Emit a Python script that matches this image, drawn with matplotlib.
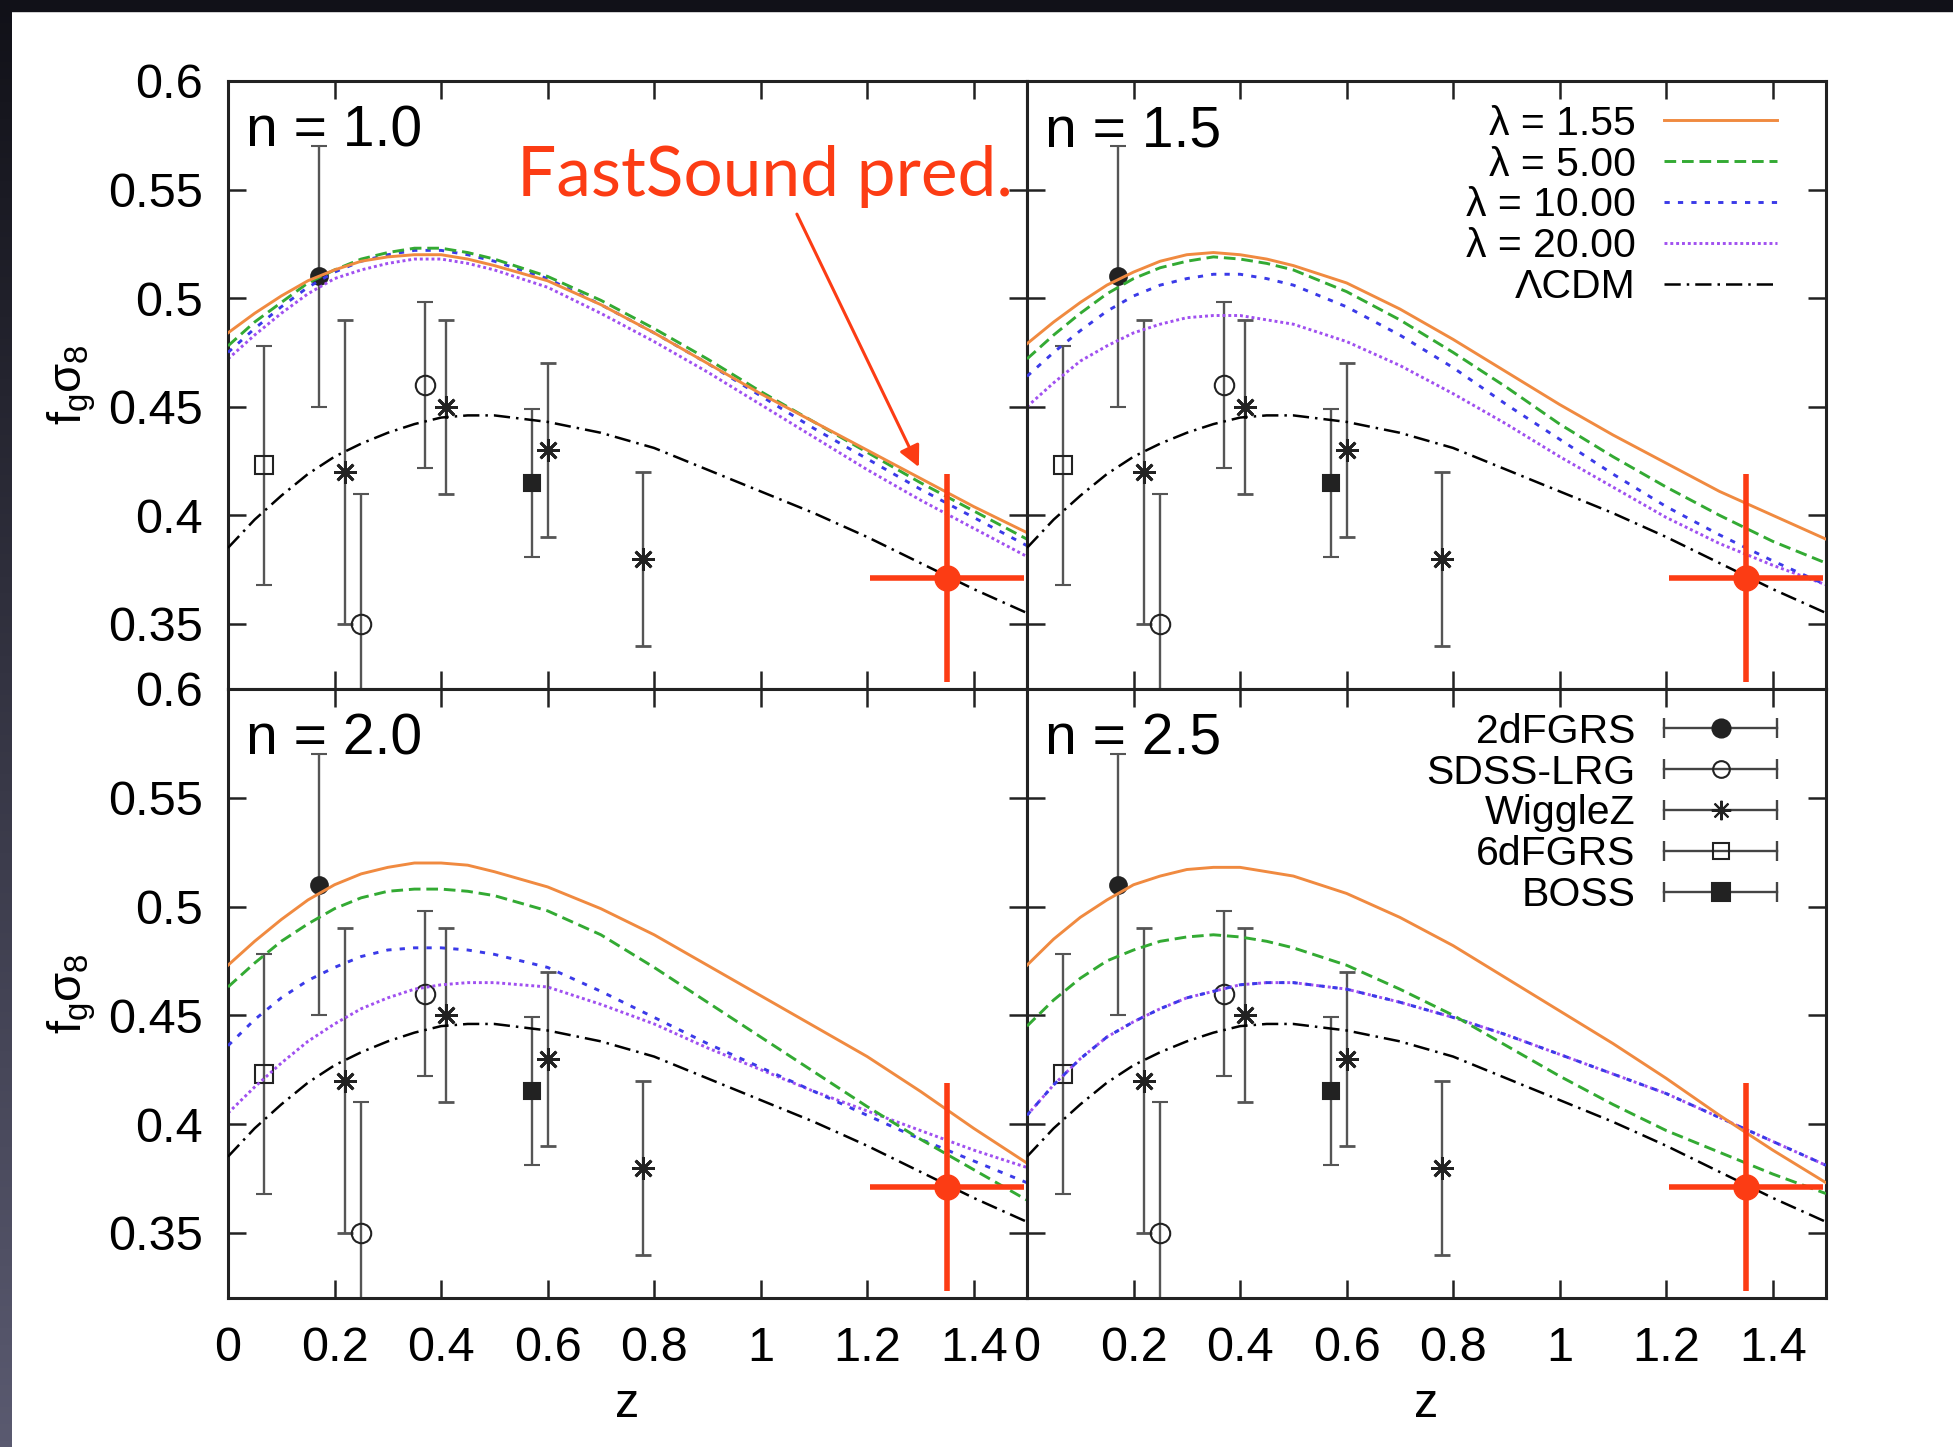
import numpy as np
import matplotlib
matplotlib.use('Agg')
import matplotlib.pyplot as plt
from matplotlib.lines import Line2D
from matplotlib.colors import LinearSegmentedColormap
from matplotlib.legend_handler import HandlerLine2D, HandlerTuple

plt.rcParams['font.family'] = ['Liberation Sans', 'DejaVu Sans']
plt.rcParams['mathtext.fontset'] = 'custom'
plt.rcParams['mathtext.rm'] = 'Liberation Sans'
plt.rcParams['mathtext.it'] = 'Liberation Sans'

# redshift grid for the model curves
z_grid = [0.0, 0.05, 0.1, 0.15, 0.2, 0.25, 0.3, 0.35, 0.4, 0.45, 0.5,
          0.6, 0.7, 0.8, 0.9, 1.0, 1.1, 1.2, 1.3, 1.4, 1.5]

# LCDM (same in every panel)
lcdm = [0.385, 0.398, 0.409, 0.419, 0.427, 0.433, 0.438, 0.442, 0.445, 0.446, 0.446,
        0.443, 0.438, 0.431, 0.421, 0.411, 0.401, 0.390, 0.378, 0.366, 0.355]

# n = 1.0
n10_lam155 = [0.484, 0.493, 0.501, 0.508, 0.513, 0.517, 0.519, 0.520, 0.520, 0.518, 0.515,
              0.508, 0.497, 0.484, 0.470, 0.456, 0.443, 0.430, 0.417, 0.404, 0.392]
n10_lam5 = [0.478, 0.489, 0.498, 0.507, 0.513, 0.518, 0.521, 0.523, 0.523, 0.521, 0.518,
            0.510, 0.499, 0.486, 0.472, 0.457, 0.443, 0.429, 0.415, 0.402, 0.389]
n10_lam10 = [0.475, 0.486, 0.496, 0.505, 0.512, 0.517, 0.520, 0.522, 0.522, 0.520, 0.517,
             0.509, 0.497, 0.484, 0.470, 0.455, 0.440, 0.426, 0.412, 0.399, 0.386]
n10_lam20 = [0.472, 0.483, 0.493, 0.502, 0.509, 0.513, 0.516, 0.518, 0.518, 0.516, 0.513,
             0.505, 0.493, 0.480, 0.466, 0.451, 0.436, 0.421, 0.407, 0.394, 0.381]

# n = 1.5
n15_lam155 = [0.479, 0.489, 0.498, 0.506, 0.512, 0.517, 0.520, 0.521, 0.520, 0.518, 0.515,
              0.507, 0.495, 0.481, 0.466, 0.451, 0.437, 0.424, 0.411, 0.400, 0.389]
n15_lam5 = [0.472, 0.483, 0.493, 0.502, 0.509, 0.514, 0.517, 0.519, 0.518, 0.516, 0.513,
            0.503, 0.490, 0.475, 0.459, 0.442, 0.427, 0.413, 0.400, 0.388, 0.378]
n15_lam10 = [0.464, 0.475, 0.485, 0.494, 0.501, 0.506, 0.509, 0.511, 0.511, 0.509, 0.506,
             0.496, 0.483, 0.468, 0.451, 0.435, 0.419, 0.404, 0.391, 0.379, 0.368]
n15_lam20 = [0.450, 0.461, 0.471, 0.478, 0.484, 0.488, 0.491, 0.492, 0.492, 0.490, 0.488,
             0.480, 0.469, 0.456, 0.442, 0.427, 0.413, 0.399, 0.387, 0.377, 0.368]

# n = 2.0
n20_lam155 = [0.473, 0.484, 0.494, 0.503, 0.510, 0.515, 0.518, 0.520, 0.520, 0.519, 0.516,
              0.509, 0.499, 0.487, 0.473, 0.459, 0.445, 0.431, 0.415, 0.398, 0.382]
n20_lam5 = [0.463, 0.474, 0.484, 0.492, 0.499, 0.504, 0.507, 0.508, 0.508, 0.507, 0.505,
            0.498, 0.487, 0.472, 0.456, 0.440, 0.424, 0.408, 0.393, 0.379, 0.365]
n20_lam10 = [0.436, 0.448, 0.458, 0.466, 0.472, 0.477, 0.480, 0.481, 0.481, 0.480, 0.478,
             0.472, 0.461, 0.449, 0.437, 0.426, 0.415, 0.404, 0.393, 0.383, 0.373]
n20_lam20 = [0.405, 0.417, 0.428, 0.438, 0.446, 0.453, 0.458, 0.462, 0.464, 0.465, 0.465,
             0.463, 0.455, 0.446, 0.435, 0.425, 0.415, 0.406, 0.397, 0.388, 0.380]

# n = 2.5
n25_lam155 = [0.473, 0.485, 0.495, 0.503, 0.510, 0.514, 0.517, 0.518, 0.518, 0.516, 0.514,
              0.506, 0.495, 0.482, 0.467, 0.452, 0.437, 0.421, 0.404, 0.388, 0.373]
n25_lam5 = [0.445, 0.457, 0.467, 0.475, 0.480, 0.484, 0.486, 0.487, 0.486, 0.484, 0.481,
            0.473, 0.462, 0.450, 0.436, 0.422, 0.409, 0.397, 0.387, 0.377, 0.368]
n25_lam10 = [0.404, 0.418, 0.430, 0.440, 0.447, 0.453, 0.458, 0.461, 0.464, 0.465, 0.465,
             0.462, 0.456, 0.449, 0.441, 0.432, 0.423, 0.414, 0.403, 0.392, 0.381]
n25_lam20 = [0.404, 0.418, 0.430, 0.440, 0.447, 0.453, 0.458, 0.461, 0.464, 0.465, 0.465,
             0.462, 0.456, 0.449, 0.441, 0.432, 0.423, 0.414, 0.403, 0.392, 0.381]

# measurements
dfgrs2_z, dfgrs2_f, dfgrs2_err = [0.17], [0.51], [0.06]
lrg_z, lrg_f, lrg_err = [0.25, 0.37], [0.35, 0.46], [0.06, 0.038]
wigglez_z, wigglez_f, wigglez_err = [0.22, 0.41, 0.60, 0.78], [0.42, 0.45, 0.43, 0.38], [0.07, 0.04, 0.04, 0.04]
dfgrs6_z, dfgrs6_f, dfgrs6_err = [0.067], [0.423], [0.055]
boss_z, boss_f, boss_err = [0.57], [0.415], [0.034]

# FastSound forecast
fs_z, fs_f, fs_zerr, fs_ferr = [1.35], [0.371], [0.145], [0.048]

x_ticks = [0, 0.2, 0.4, 0.6, 0.8, 1.0, 1.2, 1.4]
x_tick_labels = ['0', '0.2', '0.4', '0.6', '0.8', '1', '1.2', '1.4']
y_ticks = [0.35, 0.4, 0.45, 0.5, 0.55, 0.6]
y_tick_labels = ['0.35', '0.4', '0.45', '0.5', '0.55', '0.6']
n_values = ['1.0', '1.5', '2.0', '2.5']
lam_labels = ['\u03bb = 1.55', '\u03bb = 5.00', '\u03bb = 10.00', '\u03bb = 20.00']

panel_curves = {
    '1.0': [n10_lam155, n10_lam5, n10_lam10, n10_lam20],
    '1.5': [n15_lam155, n15_lam5, n15_lam10, n15_lam20],
    '2.0': [n20_lam155, n20_lam5, n20_lam10, n20_lam20],
    '2.5': [n25_lam155, n25_lam5, n25_lam10, n25_lam20],
}

RED = '#fc3c14'
curve_colors = ['#f08a40', '#33aa33', '#3a3ae8', '#a050f0']
curve_dashes = [None, (4, 2), (1.8, 2.8), (1, 1)]
curve_z = [4, 3, 2.6, 2.5]

W, H = 1953, 1447
fig = plt.figure(figsize=(W / 100, H / 100), dpi=100)
fig.patch.set_facecolor('white')

# dark slide border on top and left
fig.add_artist(plt.Rectangle((0, 1 - 11 / H), 1, 11 / H, transform=fig.transFigure,
                             color='#111118', zorder=0))
band = fig.add_axes([0, 0, 12 / W, 1])
band.imshow(np.linspace(0, 1, 256).reshape(-1, 1), aspect='auto',
            cmap=LinearSegmentedColormap.from_list('edge', ['#111118', '#5a5a70']))
band.set_axis_off()

pw = 799 / W
positions = {
    '1.0': [228 / W, 1 - 689 / H, pw, 608 / H],
    '1.5': [1027 / W, 1 - 689 / H, pw, 608 / H],
    '2.0': [228 / W, 1 - 1298 / H, pw, 609 / H],
    '2.5': [1027 / W, 1 - 1298 / H, pw, 609 / H],
}

err_kw = dict(linestyle='none', ecolor='#555555', elinewidth=1.7, capsize=6, capthick=1.7,
              mec='#222222', mew=1.5, zorder=1)

axes = {}
for n in n_values:
    ax = fig.add_axes(positions[n])
    axes[n] = ax

    ax.errorbar(dfgrs2_z, dfgrs2_f, yerr=dfgrs2_err, marker='o', ms=12, mfc='#222222', **err_kw)
    ax.errorbar(lrg_z, lrg_f, yerr=lrg_err, marker='o', ms=14, mfc='none', **err_kw)
    ax.errorbar(wigglez_z, wigglez_f, yerr=wigglez_err, marker=(8, 2, 0), ms=16,
                **{**err_kw, 'mew': 2})
    ax.errorbar(dfgrs6_z, dfgrs6_f, yerr=dfgrs6_err, marker='s', ms=13, mfc='none', **err_kw)
    ax.errorbar(boss_z, boss_f, yerr=boss_err, marker='s', ms=12, mfc='#222222', **err_kw)

    lines = []
    for vals, col, dash, zo, lab in zip(panel_curves[n], curve_colors, curve_dashes, curve_z, lam_labels):
        ln, = ax.plot(z_grid, vals, color=col, lw=2.1, zorder=zo, label=lab)
        if dash is not None:
            ln.set_dashes(dash)
        lines.append(ln)
    ln, = ax.plot(z_grid, lcdm, color='black', lw=1.8, zorder=5, label='\u039bCDM')
    ln.set_dashes((6.5, 2.4, 1, 2.4))
    lines.append(ln)

    ax.errorbar(fs_z, fs_f, xerr=fs_zerr, yerr=fs_ferr, fmt='o', color=RED, ms=18,
                elinewidth=4, capsize=0, zorder=10)

    ax.set_xlim(0, 1.5)
    ax.set_ylim(0.32, 0.6)
    ax.set_xticks(x_ticks)
    ax.set_xticklabels(x_tick_labels)
    ax.set_yticks(y_ticks)
    ax.set_yticklabels(y_tick_labels)
    ax.tick_params(direction='in', top=True, right=True, length=13, width=1.8,
                   labelsize=35, color='#222222')
    ax.tick_params(axis='x', pad=20)
    ax.tick_params(axis='y', pad=18)
    for s in ax.spines.values():
        s.set_linewidth(2.2)
        s.set_color('#222222')
    ax.text(0.0225, 0.893, 'n = ' + n, transform=ax.transAxes, fontsize=41, va='baseline')
    axes[n + '_lines'] = lines

for n in ['1.0', '1.5']:
    axes[n].tick_params(labelbottom=False)
for n in ['1.5', '2.5']:
    axes[n].tick_params(labelleft=False)
for n in ['1.0', '2.0']:
    axes[n].set_ylabel(r'$f_g\sigma_8$', fontsize=34)
    axes[n].yaxis.set_label_coords(-0.163, 0.5)
for n in ['2.0', '2.5']:
    axes[n].set_xlabel('z', fontsize=35, va='top')
    axes[n].xaxis.set_label_coords(0.5, -0.138)

leg_kw = dict(loc='upper right', bbox_to_anchor=(0.9387, 0.961), frameon=False,
              markerfirst=False, handlelength=2.75, handletextpad=0.7, labelspacing=0.07,
              fontsize=29.5, borderpad=0, borderaxespad=0)

# model legend (top right panel)
axes['1.5'].legend(handles=axes['1.5_lines'], **leg_kw)

# data legend (bottom right panel)
ds_names = ['2dFGRS', 'SDSS-LRG', 'WiggleZ', '6dFGRS', 'BOSS']
ds_markers = ['o', 'o', (8, 2, 0), 's', 's']
ds_sizes = [13, 12, 14, 12, 13]
ds_faces = ['#222222', 'none', '#222222', 'none', '#222222']
handles, hmap = [], {tuple: HandlerTuple(ndivide=1, pad=0)}
for m, s, fc in zip(ds_markers, ds_sizes, ds_faces):
    caps = Line2D([], [], color='#444444', lw=1.7, marker='|', ms=15, mew=1.7)
    mk = Line2D([], [], linestyle='none', marker=m, ms=s, mfc=fc, mec='#222222', mew=1.5)
    hmap[caps] = HandlerLine2D(numpoints=2, marker_pad=0)
    handles.append((caps, mk))
axes['2.5'].legend(handles, ds_names, handler_map=hmap, **leg_kw)

# FastSound annotation
ax1 = axes['1.0']
ax1.text(0.5425, 0.547, 'FastSound pred.', color=RED, fontsize=50, family='Lato',
         va='baseline', ha='left', zorder=12)
ax1.annotate('', xy=(1.297, 0.4222), xytext=(1.068, 0.5387),
             arrowprops=dict(arrowstyle='-|>', color=RED, lw=2.2, mutation_scale=32,
                             shrinkA=0, shrinkB=0), zorder=12)

fig.savefig('out.png', dpi=100, facecolor=fig.get_facecolor())
